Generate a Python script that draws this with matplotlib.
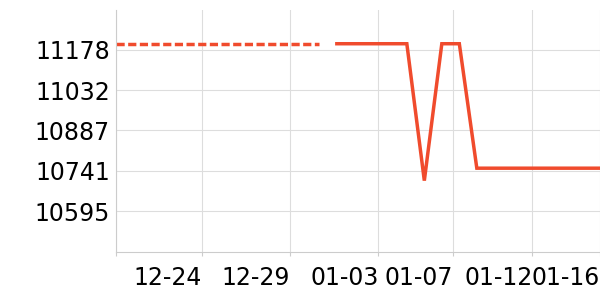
import matplotlib
matplotlib.use("Agg")
import matplotlib.pyplot as plt

# x in days from 12-19 00:00; points were sampled at ~15:30 each day
dash_days = [0.0, 11.65]
dash_vals = [11200, 11200]

solid_days = [12.65, 13.65, 14.65, 15.65, 16.65, 17.65, 18.65, 19.65,
              20.65, 21.65, 22.65, 23.65, 24.65, 25.65, 26.65, 27.65]
solid_vals = [11200, 11200, 11200, 11200, 11200, 10705, 11200, 11200,
              10750, 10750, 10750, 10750, 10750, 10750, 10750, 10750]

x_ticks = [0.0, 4.94, 9.97, 15.03, 19.31, 23.82, 27.69]
x_labels = ['', '12-24', '12-29', '01-03', '01-07', '01-12', '01-16']
y_ticks = [10595, 10741, 10887, 11032, 11178]

color = '#f04b2d'
plt.rcParams['lines.scale_dashes'] = False

fig = plt.figure(figsize=(6, 3), dpi=100)
ax = fig.add_axes([0.1925, 0.16, 0.8075, 0.8067])

ax.plot(dash_days, dash_vals, color=color, lw=2.5, dashes=(5.9, 2.5),
        dash_capstyle='butt')
ax.plot(solid_days, solid_vals, color=color, lw=2.5, solid_joinstyle='miter')

ax.set_xlim(0, 27.69)
ax.set_ylim(10447, 11322)

ax.set_xticks(x_ticks)
ax.set_xticklabels(x_labels, ha='right')
ax.set_yticks(y_ticks)
ax.set_yticklabels([str(v) for v in y_ticks])

ax.grid(True, color='#dddddd', lw=0.8)
ax.set_axisbelow(True)

for s in ['top', 'right']:
    ax.spines[s].set_visible(False)
for s in ['left', 'bottom']:
    ax.spines[s].set_color('#cccccc')
    ax.spines[s].set_linewidth(0.8)

ax.tick_params(axis='x', length=3, color='#cccccc', pad=7, labelsize=17,
               labelcolor='#000000')
ax.tick_params(axis='y', length=0, pad=4, labelsize=17, labelcolor='#000000')

fig.savefig('out.png', dpi=100)
